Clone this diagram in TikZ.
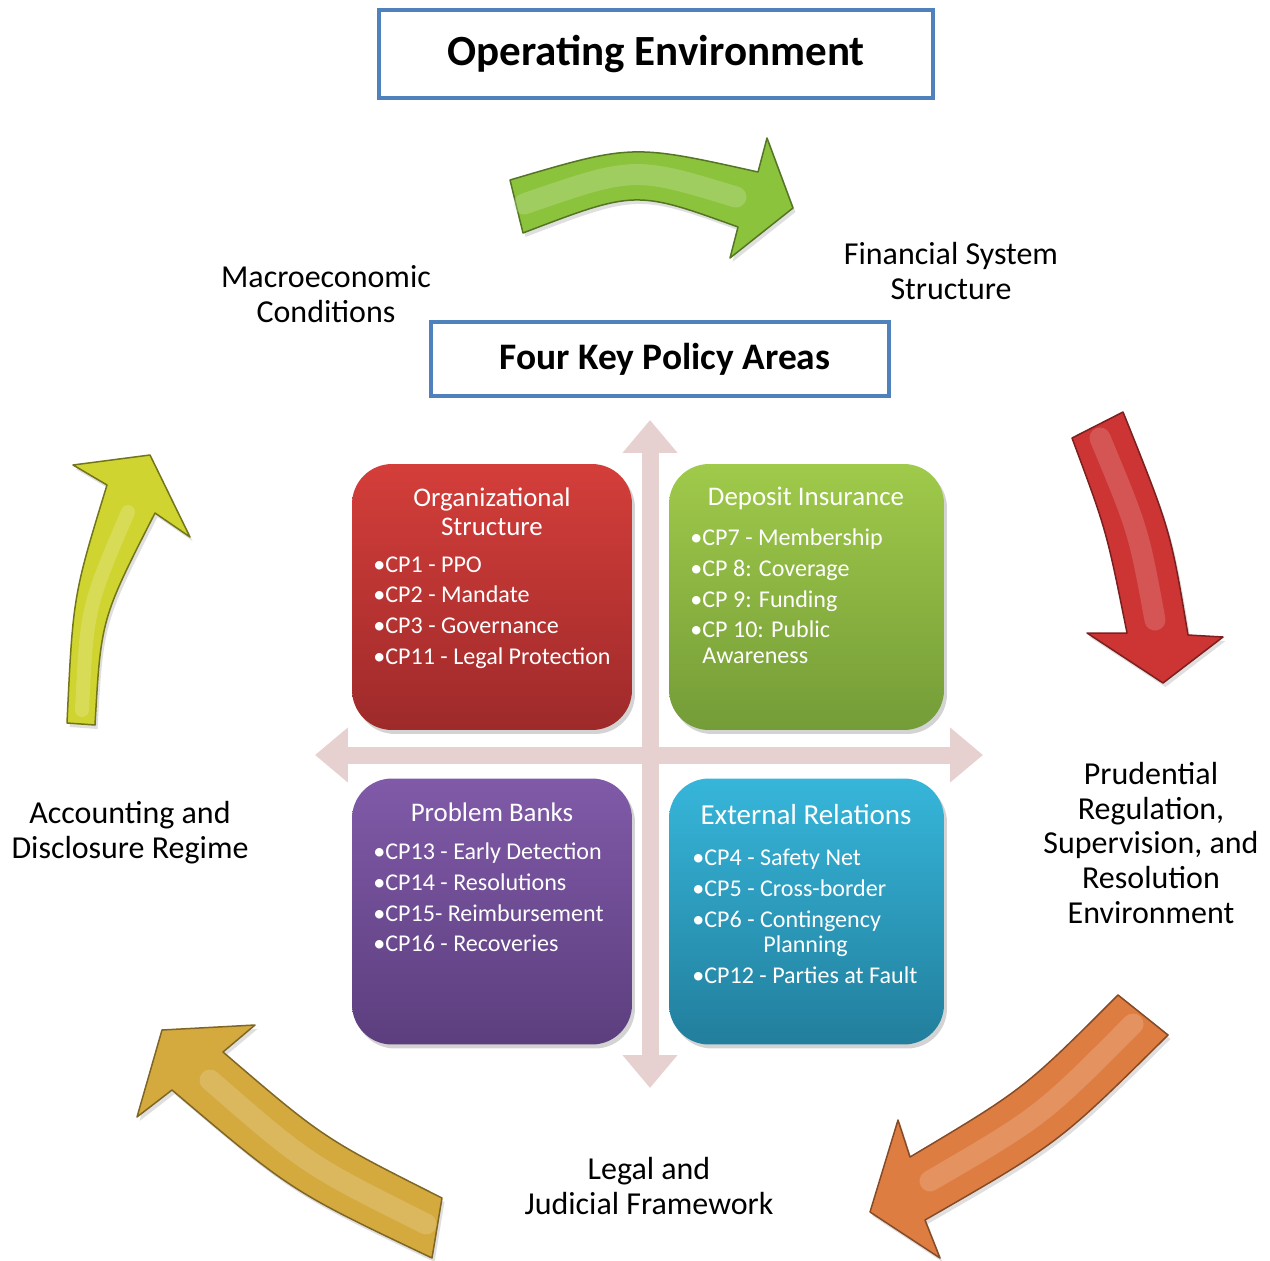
\documentclass[tikz,border=0pt]{standalone}
\usepackage{fontspec}
\setmainfont{Carlito}
\usetikzlibrary{arrows.meta, shadows, positioning}
\definecolor{titleblue}{RGB}{79,129,189}
\definecolor{crosspink}{RGB}{231,208,208}
\definecolor{redtop}{RGB}{212,62,58}
\definecolor{redbot}{RGB}{158,42,42}
\definecolor{greentop}{RGB}{160,202,74}
\definecolor{greenbot}{RGB}{116,156,56}
\definecolor{purpletop}{RGB}{128,90,168}
\definecolor{purplebot}{RGB}{92,62,126}
\definecolor{tealtop}{RGB}{54,182,218}
\definecolor{tealbot}{RGB}{34,126,156}
\definecolor{greenarrow}{RGB}{140,195,60}
\definecolor{redarrow}{RGB}{205,52,52}
\definecolor{orangearrow}{RGB}{222,125,65}
\definecolor{goldarrow}{RGB}{212,170,62}
\definecolor{yellowarrow}{RGB}{208,212,48}
\tikzset{
  titlebox/.style={draw=titleblue, line width=0.08cm, fill=white, inner sep=0pt},
  areabox/.style={rounded corners=0.8cm, minimum width=5.6cm, minimum height=5.32cm,
    drop shadow={opacity=.35, shadow xshift=.06cm, shadow yshift=-.08cm}},
  areatitle/.style={text=white, align=center, font=\fontsize{15.3}{16.4}\selectfont},
  arealist/.style={text=white, align=left, anchor=west, inner sep=0pt, font=\fontsize{13.7}{14.7}\selectfont},
  outer/.style={align=center, font=\fontsize{18.2}{19.8}\selectfont},
  crossarrow/.style={crosspink, line width=0.34cm,
    {Triangle[length=0.66cm,width=1.06cm]}-{Triangle[length=0.66cm,width=1.06cm]}},
  cyclearrow/.style={line width=0.03cm, line join=round,
    drop shadow={opacity=.25, shadow xshift=.05cm, shadow yshift=-.08cm}},
  shine/.style={line width=0.42cm, line cap=round, opacity=.3}
}
\begin{document}
\begin{tikzpicture}[x=0.02cm, y=-0.02cm]
\useasboundingbox (0,0) rectangle (1270,1260);

% titles
\node[titlebox, minimum width=11.08cm, minimum height=1.76cm,
  font=\fontsize{24.5}{30}\selectfont\bfseries] (openv) at (656,54) {Operating Environment};
\node[titlebox, minimum width=9.16cm, minimum height=1.48cm,
  font=\fontsize{21.3}{25}\selectfont\bfseries] (keyareas) at (660,359) {\hspace*{0.2cm}Four Key Policy Areas};

% cross
\coordinate (crossN) at (650,420);
\coordinate (crossS) at (650,1088);
\coordinate (crossW) at (315,755);
\coordinate (crossE) at (983,755);
\draw[crossarrow] (crossN) -- (crossS);
\draw[crossarrow] (crossW) -- (crossE);

% four areas
\node[areabox, top color=redtop, bottom color=redbot] (org) at (492,597) {};
\node[areabox, minimum width=5.5cm, top color=greentop, bottom color=greenbot] (dep) at (806.5,597) {};
\node[areabox, top color=purpletop, bottom color=purplebot] (prob) at (492,911.5) {};
\node[areabox, minimum width=5.5cm, top color=tealtop, bottom color=tealbot] (ext) at (806.5,911.5) {};

\node[areatitle] (orgtitle) at (492,512) {Organizational\\Structure};
\node[arealist] (orglist) at (373,612.5) {•CP1 - PPO\\[2.8pt]•CP2 - Mandate\\[2.8pt]•CP3 - Governance\\[2.8pt]•CP11 - Legal Protection};
\node[areatitle] (deptitle) at (806,498) {Deposit Insurance};
\node[arealist] (deplist) at (690,596.5) {•CP7 - Membership\\[2.8pt]•CP 8: Coverage\\[2.8pt]•CP 9: Funding\\[2.8pt]•CP 10: Public\\\hphantom{•}Awareness};
\node[areatitle] (probtitle) at (492,812) {Problem Banks};
\node[arealist] (problist) at (373,897.5) {•CP13 - Early Detection\\[2.8pt]•CP14 - Resolutions\\[2.8pt]•CP15- Reimbursement\\[2.8pt]•CP16 - Recoveries};
\node[areatitle, font=\fontsize{16.5}{18}\selectfont] (exttitle) at (806,815) {External Relations};
\node[arealist] (extlist) at (692,916.5) {•CP4 - Safety Net\\[2.8pt]•CP5 - Cross-border\\[2.8pt]•CP6 - Contingency\\\hspace*{1.42cm}Planning\\[2.8pt]•CP12 - Parties at Fault};

% outer labels
\node[outer] (macro) at (326,294) {Macroeconomic\\Conditions};
\node[outer] (finsys) at (951,271) {Financial System\\Structure};
\node[outer] (prudential) at (1151,843) {Prudential\\Regulation,\\Supervision, and\\Resolution\\Environment};
\node[outer] (legal) at (649,1186) {Legal and\\Judicial Framework};
\node[outer] (accounting) at (130,833) {Accounting and\\Disclosure Regime};

% cycle arrows
\path[cyclearrow, fill=greenarrow, draw=greenarrow!60!black]
  (510,180) .. controls (632,144) .. (758,172) -- (767,138) -- (793,208) -- (730,258)
  -- (738,227) .. controls (635.5,190) .. (523,233) -- cycle;
\draw[shine, greenarrow!40!white] (524,204) .. controls (634,166) .. (736,197);

\path[cyclearrow, fill=redarrow, draw=redarrow!60!black]
  (1072,438) -- (1123,412) .. controls (1170.5,530.5) .. (1188,635) -- (1223,637)
  -- (1163,683) -- (1087,633) -- (1127,633) .. controls (1106.5,530.5) .. (1072,438) -- cycle;
\draw[shine, redarrow!45!white] (1100,438) .. controls (1138.5,530.5) .. (1155,620);

\path[cyclearrow, fill=orangearrow, draw=orangearrow!60!black]
  (1118,995) -- (1168,1035) .. controls (1059,1143) .. (925,1220) -- (940,1258)
  -- (870,1212) -- (898,1120) -- (910,1157) .. controls (1024,1089) .. (1118,995) -- cycle;
\draw[shine, orangearrow!45!white] (1133,1024) .. controls (1041.5,1116) .. (930,1181);

\path[cyclearrow, fill=goldarrow, draw=goldarrow!60!black]
  (442,1198) -- (432,1258) .. controls (291,1191) .. (172,1090) -- (137,1117)
  -- (162,1030) -- (255,1025) -- (223,1052) .. controls (323.5,1138.3) .. (442,1198) -- cycle;
\draw[shine, goldarrow!45!white] (426,1224) .. controls (307,1164.5) .. (210,1080);

\path[cyclearrow, fill=yellowarrow, draw=yellowarrow!55!black]
  (67,723) -- (95,725) .. controls (101,619) .. (155,513) -- (190,537) -- (150,455)
  -- (73,465) -- (107,485) .. controls (73,596) .. (67,723) -- cycle;
\draw[shine, line width=0.28cm, yellowarrow!40!white] (82,710) .. controls (87,607.5) .. (128,512);
\end{tikzpicture}
\end{document}
